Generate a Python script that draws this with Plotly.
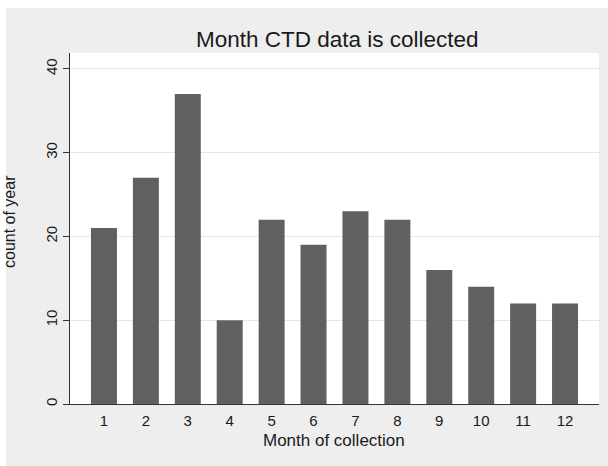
import plotly.graph_objects as go

# Number of CTD casts per month of collection
months = [1, 2, 3, 4, 5, 6, 7, 8, 9, 10, 11, 12]
counts = [21, 27, 37, 10, 22, 19, 23, 22, 16, 14, 12, 12]
y_ticks = [0, 10, 20, 30, 40]

W, H = 608, 466
L, R, T, B = 70, 9, 53, 62
pw, ph = W - L - R, H - T - B


def px_x(px):
    return (px - L) / pw


def px_y(py):
    return (H - B - py) / ph


font = "Liberation Sans, Arial, sans-serif"
ink = "#1a1a1a"

fig = go.Figure(
    go.Bar(
        x=months,
        y=counts,
        width=0.62,
        marker=dict(color="#606060", line=dict(width=0)),
    )
)

fig.update_layout(
    width=W,
    height=H,
    margin=dict(l=L, r=R, t=T, b=B, pad=0),
    paper_bgcolor="#eeeeee",
    plot_bgcolor="white",
    showlegend=False,
    font=dict(family=font, color=ink),
    xaxis=dict(
        range=[0.19, 12.81],
        tickmode="array",
        tickvals=months,
        ticktext=[str(m) for m in months],
        ticks="outside",
        ticklen=3,
        tickcolor="rgba(0,0,0,0)",
        tickfont=dict(size=15, color=ink),
        showgrid=False,
        showline=True,
        linecolor="#333333",
        linewidth=1,
        zeroline=False,
        fixedrange=True,
    ),
    yaxis=dict(
        range=[0, 41.9],
        tickmode="array",
        tickvals=y_ticks,
        ticktext=[str(v) for v in y_ticks],
        tickangle=-90,
        ticks="outside",
        ticklen=6,
        tickcolor="#333333",
        tickfont=dict(size=15, color=ink),
        showgrid=True,
        gridcolor="#e6e6e6",
        gridwidth=1,
        showline=True,
        linecolor="#333333",
        linewidth=1,
        zeroline=False,
        fixedrange=True,
    ),
    shapes=[
        # white strips along the left and top edges of the canvas
        dict(type="rect", xref="paper", yref="paper",
             x0=px_x(-2), x1=px_x(6), y0=px_y(H + 2), y1=px_y(-2),
             fillcolor="white", line=dict(width=0), layer="below"),
        dict(type="rect", xref="paper", yref="paper",
             x0=px_x(-2), x1=px_x(W + 2), y0=px_y(8), y1=px_y(-2),
             fillcolor="white", line=dict(width=0), layer="below"),
    ],
    annotations=[
        dict(text="Month CTD data is collected", xref="paper", yref="paper",
             x=px_x(337.5), y=px_y(39.5), xanchor="center", yanchor="middle",
             showarrow=False, font=dict(size=22.5, color=ink)),
        dict(text="Month of collection", xref="paper", yref="paper",
             x=px_x(333.5), y=px_y(440), xanchor="center", yanchor="middle",
             showarrow=False, font=dict(size=17, color=ink)),
        dict(text="count of year", xref="paper", yref="paper",
             x=px_x(9), y=px_y(222), xanchor="center", yanchor="middle",
             textangle=-90, showarrow=False, font=dict(size=16, color=ink)),
    ],
)

fig.write_html("out.html")
